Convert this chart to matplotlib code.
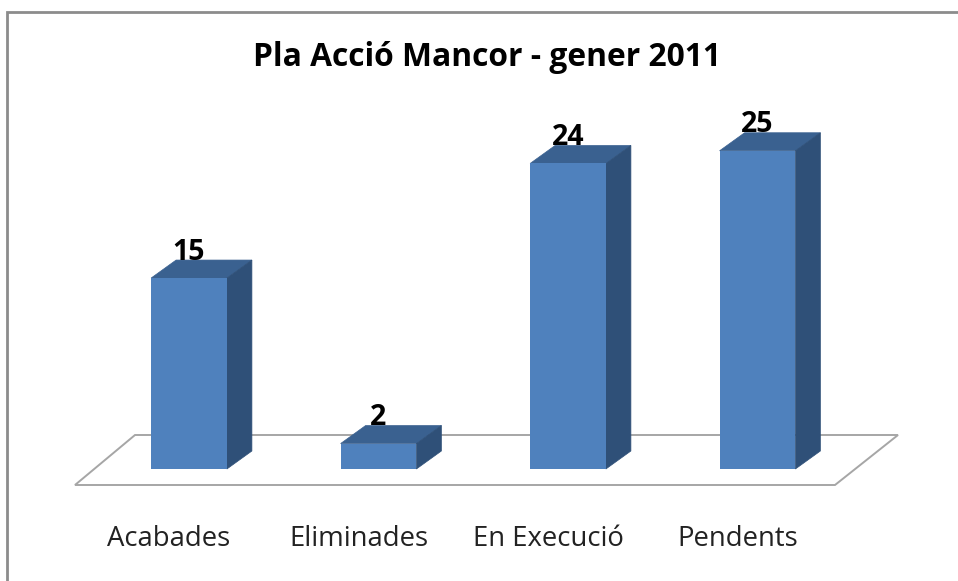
import matplotlib
matplotlib.use("Agg")
import matplotlib.pyplot as plt
from matplotlib.patches import Polygon, Rectangle

categories = ["Acabades", "Eliminades", "En Execució", "Pendents"]
values = [15, 2, 24, 25]
title = "Pla Acció Mancor - gener 2011"

W, H = 958, 581
PX_X, PX_Y = 189.5, 12.73
X0, Y0 = 189, 469
FRONT, TOP, SIDE = "#4F81BD", "#3A6190", "#2F5078"

plt.rcParams["font.family"] = ["Open Sans", "DejaVu Sans"]
fig = plt.figure(figsize=(W / 100, H / 100), dpi=100, facecolor="white")
ax = fig.add_axes([0, 0, 1, 1])
ax.set_xlim(-X0 / PX_X, (W - X0) / PX_X)
ax.set_ylim((Y0 - H) / PX_Y, Y0 / PX_Y)
ax.axis("off")

def px(x, y):
    return ((x - X0) / PX_X, (Y0 - y) / PX_Y)

# outer frame (only left and top edges fall inside the picture)
fx, fy = px(7, 11.5)
fx2, fy2 = px(975, 600)
ax.add_patch(Rectangle((fx, fy2), fx2 - fx, fy - fy2, fc="white", ec="#8C8C8C", lw=2, zorder=0))

# floor
ax.add_patch(Polygon([px(75, 485), px(135, 435), px(898, 435), px(835, 485)],
                     closed=True, fc="white", ec="#A6A6A6", lw=1.4, zorder=1))

bw = 0.4
dx, dy = 25 / PX_X, 18 / PX_Y
bars = ax.bar(range(len(values)), values, width=bw, color=FRONT, zorder=3.2)
for i, v in enumerate(values):
    l, r = i - bw / 2, i + bw / 2
    ax.add_patch(Polygon([(l, v), (r, v), (r + dx, v + dy), (l + dx, v + dy)], fc=TOP, ec=TOP, lw=0.5, zorder=3))
    ax.add_patch(Polygon([(r, 0), (r + dx, dy), (r + dx, v + dy), (r, v)], fc=SIDE, ec=SIDE, lw=0.5, zorder=3))
    ax.text(i, v + 0.9, str(v), ha="center", va="bottom", fontsize=20.5, color="black", zorder=4,
            fontweight="bold", linespacing=1)
    ax.text(i - 0.105, -5.5, categories[i], ha="center", va="center", fontsize=19.8, color="#222222")

tx, ty = px(487, 57)
ax.text(tx, ty, title, ha="center", va="center", fontsize=22.9, fontweight="bold", color="black")

fig.savefig("out.png", dpi=100)
